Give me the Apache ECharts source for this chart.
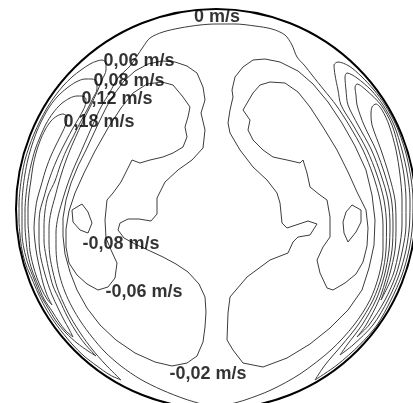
<!DOCTYPE html>
<html>
<head>
<meta charset="utf-8">
<script src="https://cdn.jsdelivr.net/npm/echarts@6/dist/echarts.min.js"></script>
<style>
  html, body { margin: 0; padding: 0; background: #fff; }
  #main { width: 413px; height: 403px; }
</style>
</head>
<body>
<div id="main"></div>
<script>
// picture frame: x 0..413 to the right, y 0..403 downwards
var wallCircle = [216, 209, 200];   // centre x, centre y, radius

// 0 m/s line, runs from the bottom up the left side, over the top and down the right side
var zeroLine = [[205,405],[185,399],[162,390],[140,379],[121,366],[105,352],[92,337],[81,322],[72,307],[65,292],[60,277],[57,262],[56,247],[56,232],[58,217],[62,202],[67,186],[73,170],[80,154],[87,138],[94,122],[101,107],[110,92],[118,78],[130,66],[137,56],[143,47],[150,38],[163,32],[180,28],[200,25],[216,24],[235,24],[255,26],[272,29],[285,35],[292,45],[297,57],[305,66],[312,75],[324,90],[336,105],[349,125],[363,150],[373,175],[380,200],[383,225],[383,250],[379,275],[370,300],[354,325],[331,350],[300,374],[271,390],[245,400],[227,405]];

// wall jets, left side
var left006 = [[121,380],[110,375],[97,366],[84,356],[72,344],[62,332],[53,320],[45,307],[38,293],[32,279],[26,265],[22,250],[20,235],[19,220],[19,205],[20,190],[22,175],[25,160],[29,147],[34,134],[40,121],[47,108],[55,96],[63,86],[72,77],[81,70],[90,64],[97,61],[102,60],[106,63],[106,70],[102,80],[97,92],[91,105],[84,119],[77,134],[70,150],[64,166],[59,182],[55,197],[51,212],[49,227],[49,242],[50,257],[53,272],[57,287],[63,302],[71,318],[81,334],[92,349],[105,364],[121,380]];
var left008 = [[96,356],[88,351],[77,343],[66,333],[56,321],[48,308],[40,294],[34,279],[28,264],[24,249],[22,234],[22,219],[22,204],[23,189],[25,174],[28,159],[32,145],[37,131],[43,118],[50,106],[58,96],[67,88],[76,82],[85,79],[92,79],[97,82],[97,89],[93,98],[87,110],[80,123],[73,137],[66,151],[60,166],[55,181],[48,196],[45,211],[44,226],[44,241],[46,256],[49,271],[53,286],[60,301],[67,316],[75,330],[85,344],[96,356]];
var left012 = [[73,337],[66,331],[59,322],[52,311],[44,299],[38,285],[32,270],[28,255],[26,240],[25,225],[25,210],[26,195],[28,180],[31,165],[35,150],[40,137],[46,124],[53,113],[61,104],[70,98],[77,96],[82,96],[86,99],[85,106],[80,116],[73,128],[66,141],[59,155],[53,169],[48,183],[44,197],[40,211],[39,225],[39,239],[40,253],[43,267],[47,281],[52,295],[58,308],[64,320],[69,329],[73,337]];
var left018 = [[52,305],[47,299],[42,290],[37,278],[33,265],[30,251],[29,237],[28,222],[28,208],[29,194],[31,180],[33,166],[36,153],[40,141],[45,130],[51,121],[57,116],[63,114],[67,117],[66,124],[62,133],[56,145],[50,158],[45,172],[41,186],[37,200],[35,214],[34,228],[35,242],[37,256],[40,270],[43,283],[47,295],[52,305]];

// wall jets, right side
var right006 = [[315,380],[337,365],[359.5,345],[377,325],[391,300],[402,275],[409,250],[412.5,225],[413,200],[410.5,175],[405,150],[396,125],[385,105],[374,90],[361,76],[349,66],[338,62],[334,65],[335,75],[338,90],[341,105],[353,125],[367,150],[377,175],[384,200],[386.5,225],[386,250],[382,275],[373,300],[358,325],[342,345],[325,365],[315,380]];
var right008 = [[340,355],[353,345],[373,325],[388,300],[399,275],[406,250],[409.5,225],[410,200],[407.5,175],[402,150],[394,125],[383,105],[371,90],[357,78],[347,73],[345,77],[346,90],[348,105],[358,125],[371.5,150],[381,175],[388,200],[390,225],[389,250],[384.5,275],[376,300],[362,325],[347,345],[340,355]];
var right012 = [[357,337],[369,325],[385,300],[396,275],[402.5,250],[406,225],[406,200],[404,175],[399,150],[392,125],[381,105],[366,90],[357,84],[355,88],[356,95],[357,105],[364,125],[376,150],[385,175],[391.5,200],[393,225],[392,250],[387,275],[379,300],[366,325],[357,337]];
var right018 = [[381,300],[393,275],[399,250],[402,225],[402,200],[400,175],[396,150],[389,125],[382,110],[376,104],[372,107],[371,115],[372,125],[381,150],[389,175],[395,200],[396,225],[395,250],[389.5,275],[381,300]];

// back flow, left lobe
var leftLobe002 = [[175,62],[187,66],[197,73],[203,87],[205,100],[201,113],[205,130],[203,148],[192,160],[178,170],[165,182],[157,198],[157,214],[151,221],[139,219],[128,219],[120,223],[118,230],[124,238],[135,244],[148,250],[163,257],[176,264],[188,272],[199,284],[205,297],[206,312],[205,327],[203,342],[197,356],[187,363],[172,366],[155,362],[135,353],[116,340],[100,325],[87,308],[77,290],[70,272],[65,254],[63,236],[63,218],[66,200],[71,183],[78,166],[86,150],[93,135],[100,120],[107,106],[115,93],[124,81],[135,71],[148,64],[162,61],[175,62]];
var leftLobe006 = [[162,82],[173,85],[183,97],[190,107],[188,117],[185,127],[187,137],[183,147],[173,153],[163,157],[150,160],[140,163],[132,160],[127,170],[121,182],[113,193],[107,200],[105,220],[106,238],[111,250],[117,263],[115,278],[108,287],[98,290],[87,284],[77,275],[69,263],[66,247],[66,229],[69,211],[75,193],[84,173],[95,151],[108,128],[121,108],[133,93],[147,84],[162,82]];
var leftLobe008 = [[72,210],[82,204],[88,212],[92,223],[88,233],[80,230],[73,222],[72,210]];

// back flow, right lobe
var rightLobe002 = [[253,60],[243,67],[235,77],[232,90],[233,97],[230,110],[228,123],[230,133],[240,150],[253,167],[267,180],[277,193],[280,203],[282,223],[287,228],[308,221],[317,224],[310,235],[298,237],[293,242],[288,253],[270,260],[247,277],[230,297],[228,313],[227,340],[233,350],[243,363],[263,367],[287,358],[310,344],[330,328],[348,310],[362,290],[369,268],[374,245],[375,220],[372,195],[366,170],[355,146],[342,123],[328,102],[313,84],[298,71],[280,62],[265,59],[253,60]];
var rightLobe006 = [[270,82],[285,83],[298,92],[310,107],[323,127],[337,150],[348,172],[357,192],[366,210],[368,228],[367,246],[363,262],[356,274],[345,283],[333,290],[327,288],[320,273],[317,260],[323,247],[330,237],[330,217],[327,200],[320,195],[310,187],[307,173],[303,160],[300,163],[287,160],[273,157],[263,150],[253,140],[248,130],[250,120],[243,110],[253,93],[260,85],[270,82]];
var rightLobe008 = [[352,205],[361,210],[361,222],[356,232],[348,242],[344,233],[343,222],[346,212],[352,205]];

// level labels
var labelNames = ['0 m/s', '0,06 m/s', '0,08 m/s', '0,12 m/s', '0,18 m/s', '-0,08 m/s', '-0,06 m/s', '-0,02 m/s'];
var labelPos = [[217,17],[139,61],[129,81],[117,99],[99,122],[121,244],[144,292],[208,374]];

var chart = echarts.init(document.getElementById('main'));

//one contour line
function contourLine(name, pts, smooth){
    return {
        name: name,
        type: 'line',
        data: pts,
        smooth: smooth,
        symbol: 'none',
        silent: true,
        clip: false,
        lineStyle: { color: '#3c3c3c', width: 1 },
        z: 2
    };
}

var series = [
    contourLine('0', zeroLine, 0.3),
    contourLine('0,06 L', left006, 0.3),
    contourLine('0,08 L', left008, 0.3),
    contourLine('0,12 L', left012, 0.3),
    contourLine('0,18 L', left018, 0.3),
    contourLine('0,06 R', right006, 0.3),
    contourLine('0,08 R', right008, 0.3),
    contourLine('0,12 R', right012, 0.3),
    contourLine('0,18 R', right018, 0.3),
    contourLine('-0,02 L', leftLobe002, false),
    contourLine('-0,06 L', leftLobe006, false),
    contourLine('-0,08 L', leftLobe008, false),
    contourLine('-0,02 R', rightLobe002, false),
    contourLine('-0,06 R', rightLobe006, false),
    contourLine('-0,08 R', rightLobe008, false)
];

//pipe wall
series.push({
    type: 'custom',
    silent: true,
    clip: false,
    z: 3,
    data: [wallCircle],
    renderItem: function(params, api){
        var c = api.coord([api.value(0), api.value(1)]);
        var r = api.size([api.value(2), 0])[0];
        return {
            type: 'circle',
            shape: { cx: c[0], cy: c[1], r: r },
            style: { fill: 'none', stroke: '#000', lineWidth: 2 }
        };
    }
});

//labels
var labelData = [];
for(var i=0; i<labelNames.length; i++){
    labelData.push({ name: labelNames[i], value: labelPos[i] });
}
series.push({
    type: 'scatter',
    silent: true,
    z: 5,
    symbolSize: 1,
    itemStyle: { color: 'rgba(0,0,0,0)' },
    data: labelData,
    label: {
        show: true,
        position: 'inside',
        formatter: '{b}',
        color: '#000',
        fontSize: 18,
        fontWeight: 'bold',
        fontFamily: 'Liberation Sans, Arial, sans-serif'
    }
});

chart.setOption({
    animation: false,
    backgroundColor: '#fff',
    grid: { left: 0, right: 0, top: 0, bottom: 0 },
    xAxis: { type: 'value', min: 0, max: 413, show: false },
    yAxis: { type: 'value', min: 0, max: 403, inverse: true, show: false },
    series: series
});
</script>
</body>
</html>
